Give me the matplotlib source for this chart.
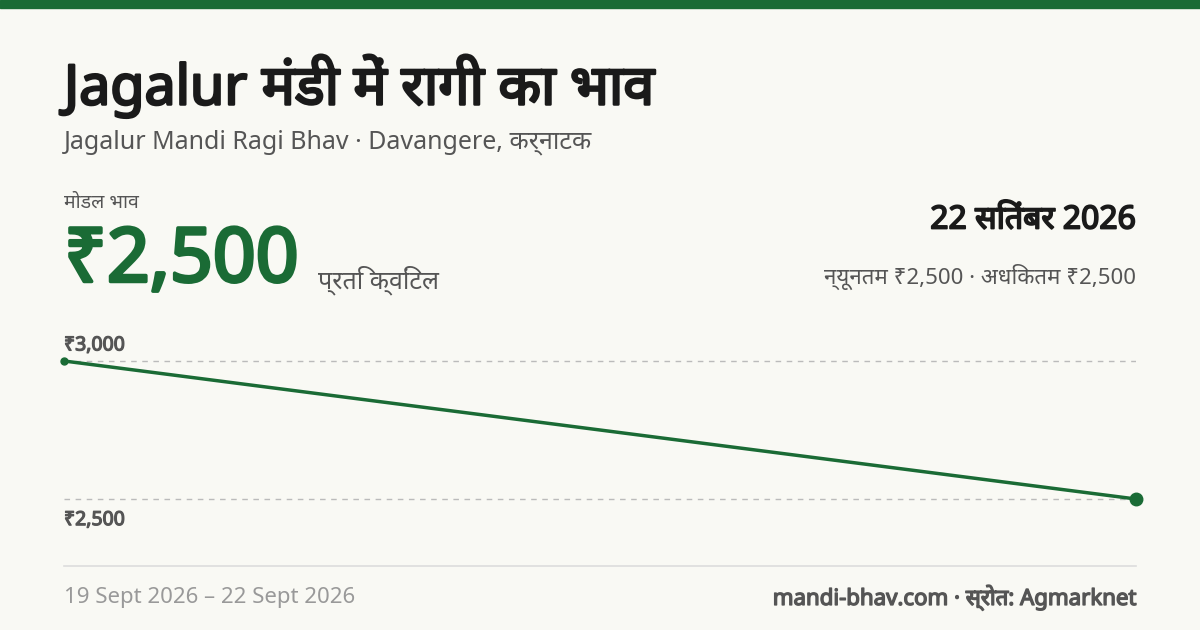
import matplotlib
matplotlib.use("Agg")
import matplotlib.pyplot as plt
import matplotlib.patheffects as pe

dates = ["19 Sept 2026", "22 Sept 2026"]
prices = [3000, 2500]
tick_vals = [3000, 2500]
tick_labels = ["₹3,000", "₹2,500"]

GREEN = "#1a6b35"
BG = "#f9f9f4"
FAM = ["Noto Sans", "DejaVu Sans"]
plt.rcParams['font.family'] = FAM

W, H = 1200, 630
fig = plt.figure(figsize=(12, 6.3), dpi=100, facecolor=BG)

def B(color, w):
    return [pe.withStroke(linewidth=w, foreground=color)]

def T(x, y, s, bold=0, **kw):
    t = fig.text(x / W, 1 - y / H, s, **kw)
    if bold:
        t.set_path_effects(B(kw.get("color", "k"), bold))
    return t

fig.patches.append(plt.Rectangle((0, 1 - 8 / H), 1, 8 / H, transform=fig.transFigure, color=GREEN))

T(64, 86, "Jagalur मंडी में रागी का भाव", bold=1.8, fontsize=40, color="#1a1a1a", va="center")
T(64, 142, "Jagalur Mandi Ragi Bhav · Davangere, कर्नाटक", fontsize=18, color="#555555", va="center")
T(64, 203, "मोडल भाव", fontsize=14, color="#555555", va="center")
T(64, 262, "₹2,500", bold=2.5, fontsize=54, color=GREEN, va="center")
T(318, 280, "प्रति क्विंटल", fontsize=18, color="#555555", va="center")
T(1136, 220, "22 सितंबर 2026", bold=1.3, fontsize=23, color="#1a1a1a", va="center", ha="right")
T(1136, 277, "न्यूनतम ₹2,500 · अधिकतम ₹2,500", fontsize=16, color="#555555", va="center", ha="right")

ax = fig.add_axes([64 / W, 1 - 520 / H, (1136 - 64) / W, 180 / H])
ax.set_facecolor("none")
x = list(range(len(prices)))
ax.plot(x, prices, color=GREEN, lw=2.5, clip_on=False, zorder=3)
ax.plot(x[0], prices[0], "o", color=GREEN, ms=5, clip_on=False, zorder=4)
ax.plot(x[-1], prices[-1], "o", color=GREEN, ms=9, clip_on=False, zorder=4)
ax.set_xlim(0, len(prices) - 1)
ax.set_ylim(2424, 3076)
for v in tick_vals:
    ax.axhline(v, color="#bbbbbb", lw=1, ls=(0, (4, 4)), zorder=1)
ax.annotate(tick_labels[0], (0, tick_vals[0]), xytext=(0, 4), textcoords="offset points",
            fontsize=14, color="#555555", va="bottom", ha="left",
            path_effects=B("#555555", 0.9))
ax.annotate(tick_labels[1], (0, tick_vals[1]), xytext=(0, -8), textcoords="offset points",
            fontsize=14, color="#555555", va="top", ha="left",
            path_effects=B("#555555", 0.9))
for s in ax.spines.values():
    s.set_visible(False)
ax.set_xticks([]); ax.set_yticks([])

fig.add_artist(plt.Line2D([64 / W, 1136 / W], [1 - 566 / H] * 2, color="#dddddd", lw=1.2))
T(64, 598, f"{dates[0]} – {dates[1]}", fontsize=16, color="#999999", va="center")
T(1136, 598, "mandi-bhav.com · स्रोत: Agmarknet", bold=1.0, fontsize=16, color="#555555",
  va="center", ha="right")

fig.savefig("out.png", dpi=100, facecolor=BG)
